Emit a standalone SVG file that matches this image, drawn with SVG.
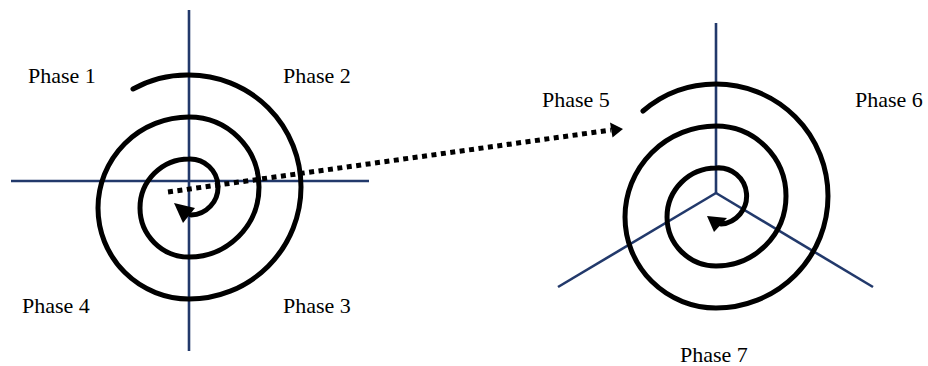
<svg xmlns="http://www.w3.org/2000/svg" width="928" height="366" viewBox="0 0 928 366">
<style>
.axis{stroke:#22396b;stroke-width:2.6;fill:none;stroke-linecap:butt}
.spiral{stroke:#000;stroke-width:5;fill:none;stroke-linecap:round}
.head{fill:#000}
.label{font-family:"Liberation Serif","Times New Roman",serif;font-size:22px;fill:#000}
.dots{stroke:#000;stroke-width:5;fill:none;stroke-dasharray:5 4.5}
</style>
<rect width="928" height="366" fill="#fff"/>
<g id="spiral-left">
<line class="axis" x1="189" y1="10" x2="189" y2="351"/>
<line class="axis" x1="11" y1="181" x2="369" y2="181"/>
<path class="spiral" d="M 133 89 A 112 112 0 0 1 189 75 A 112 112 0 0 1 189 299 A 91 91 0 0 1 189 117 A 70 70 0 0 1 189 257 A 49 49 0 0 1 189 159 A 28 28 0 0 1 191 215"/>
<polygon class="head" points="174,203 183,223 195,208"/>
</g>
<g id="spiral-right">
<line class="axis" x1="716" y1="23" x2="716" y2="193"/>
<line class="axis" x1="716" y1="193" x2="558" y2="287"/>
<line class="axis" x1="716" y1="193" x2="873" y2="287"/>
<path class="spiral" d="M 643 111 A 112 112 0 0 1 716 84 A 112 112 0 0 1 716 308 A 91 91 0 0 1 716 126 A 70 70 0 0 1 716 266 A 49 49 0 0 1 716 168 A 28 28 0 0 1 721 224"/>
<polygon class="head" points="707,216 714,232 727,218"/>
</g>
<g id="labels">
<text class="label" x="28" y="83">Phase 1</text>
<text class="label" x="283" y="83">Phase 2</text>
<text class="label" x="283" y="313">Phase 3</text>
<text class="label" x="22" y="313">Phase 4</text>
<text class="label" x="542" y="107">Phase 5</text>
<text class="label" x="855" y="107">Phase 6</text>
<text class="label" x="680" y="362">Phase 7</text>
</g>
<g id="connectors">
<line class="dots" x1="168" y1="192" x2="611" y2="130"/>
<polygon class="head" points="623,129 610,122.5 612.5,137.5"/>
</g>
</svg>
